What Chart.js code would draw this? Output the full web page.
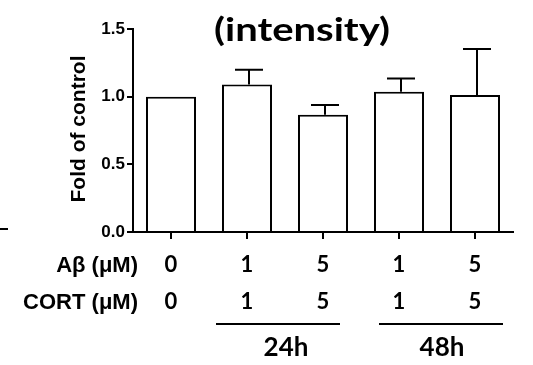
<!DOCTYPE html>
<html>
<head>
<meta charset="utf-8">
<script src="https://cdn.jsdelivr.net/npm/chart.js@4"></script>
<style>
  body { margin: 0; background: #fff; }
  #wrap { width: 533px; height: 365px; }
</style>
</head>
<body>
<div id="wrap"><canvas id="myChart" width="533" height="365"></canvas></div>
<script>
// data
var abetaDose = ["0", "1", "5", "1", "5"];
var cortDose = ["0", "1", "5", "1", "5"];
var foldValues = [1.0, 1.09, 0.867, 1.036, 1.012];
var foldErrors = [0, 0.108, 0.071, 0.099, 0.341];
var yTicks = [0, 0.5, 1.0, 1.5];
var groups = [
    { label: "24h", from: 1, to: 2 },
    { label: "48h", from: 3, to: 4 }
];

var labels = abetaDose.map(function (a, i) { return [a, cortDose[i]]; });

// upper error bars, the y axis title, row headers and the time groups
var extras = {
    id: "extras",
    afterDatasetsDraw: function (chart) {
        var ctx = chart.ctx;
        var y = chart.scales.y;
        var bars = chart.getDatasetMeta(0).data;
        ctx.save();
        ctx.strokeStyle = "#000";
        ctx.lineWidth = 2;
        bars.forEach(function (bar, i) {
            if (!foldErrors[i]) return;
            var top = y.getPixelForValue(foldValues[i] + foldErrors[i]);
            var cx = bar.x + 2;
            ctx.beginPath();
            ctx.moveTo(cx, bar.y);
            ctx.lineTo(cx, top);
            ctx.moveTo(cx - 14, top);
            ctx.lineTo(cx + 14, top);
            ctx.stroke();
        });
        ctx.restore();
    },
    afterDraw: function (chart) {
        var ctx = chart.ctx;
        var x = chart.scales.x;
        var area = chart.chartArea;
        ctx.save();
        ctx.fillStyle = "#000";

        // title sits inside the plot
        ctx.font = "bold 32px Lato";
        ctx.textAlign = "center";
        ctx.textBaseline = "middle";
        ctx.save();
        ctx.translate(302, 31);
        ctx.scale(1.25, 1);
        ctx.fillText("(intensity)", 0, 0);
        ctx.restore();

        // y axis title
        ctx.save();
        ctx.translate(79, 129);
        ctx.rotate(-Math.PI / 2);
        ctx.font = "bold 21px 'Liberation Sans'";
        ctx.fillText("Fold of control", 0, 0);
        ctx.restore();

        // row headers
        ctx.font = "bold 22px 'Liberation Sans'";
        ctx.textAlign = "right";
        ctx.fillText("A\u03b2 (\u03bcM)", 138, 266);
        ctx.fillText("CORT (\u03bcM)", 138, 303);

        // time groups
        ctx.lineWidth = 2;
        ctx.strokeStyle = "#000";
        ctx.textAlign = "center";
        ctx.font = "bold 26px Lato";
        groups.forEach(function (g, k) {
            var a = x.getPixelForValue(g.from);
            var b = x.getPixelForValue(g.to);
            var mid = (a + b) / 2 + (k === 0 ? -7 : 4);
            ctx.beginPath();
            ctx.moveTo(mid - 62, 324);
            ctx.lineTo(mid + 62, 324);
            ctx.stroke();
            ctx.fillText(g.label, mid + (k === 0 ? 8 : 1), 348);
        });

        // stray dash on the left edge
        ctx.beginPath();
        ctx.moveTo(0, area.bottom - 3);
        ctx.lineTo(8, area.bottom - 3);
        ctx.stroke();
        ctx.restore();
    }
};

var ctx = document.getElementById("myChart");
var myChart = new Chart(ctx, {
    type: "bar",
    data: {
        labels: labels,
        datasets: [{
            data: foldValues,
            backgroundColor: "#fff",
            borderColor: "#000",
            borderWidth: 2,
            barPercentage: 0.658,
            categoryPercentage: 1
        }]
    },
    options: {
        responsive: false,
        animation: false,
        layout: { padding: { left: 0, right: 20, top: 29, bottom: 0 } },
        plugins: {
            legend: { display: false },
            tooltip: { enabled: false }
        },
        scales: {
            x: {
                grid: {
                    drawOnChartArea: false,
                    offset: false,
                    tickLength: 7,
                    lineWidth: 2,
                    color: "#000"
                },
                border: { display: true, width: 2, color: "#000" },
                ticks: {
                    color: "#000",
                    padding: 7,
                    maxRotation: 0,
                    font: { family: "Lato", weight: "bold", size: 22, lineHeight: 1.68 }
                },
                afterFit: function (scale) { scale.height = 133; }
            },
            y: {
                min: 0,
                max: 1.5,
                afterBuildTicks: function (scale) {
                    scale.ticks = yTicks.map(function (v) { return { value: v }; });
                },
                grid: {
                    drawOnChartArea: false,
                    tickLength: 6,
                    lineWidth: 2,
                    color: "#000"
                },
                border: { display: true, width: 2, color: "#000" },
                ticks: {
                    color: "#000",
                    padding: 2,
                    font: { family: "Liberation Sans", weight: "bold", size: 17 },
                    callback: function (v) { return Number(v).toFixed(1); }
                },
                afterFit: function (scale) { scale.width = 133; }
            }
        }
    },
    plugins: [extras]
});
</script>
</body>
</html>
